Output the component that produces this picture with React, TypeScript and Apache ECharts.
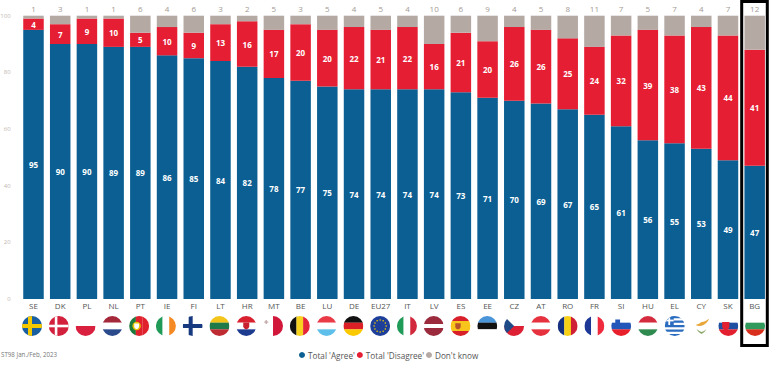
import React, { useEffect, useRef } from "react";
import * as echarts from "echarts";

const categories = ["SE","DK","PL","NL","PT","IE","FI","LT","HR","MT","BE","LU","DE","EU27","IT","LV","ES","EE","CZ","AT","RO","FR","SI","HU","EL","CY","SK","BG"];
const agree = [95,90,90,89,89,86,85,84,82,78,77,75,74,74,74,74,73,71,70,69,67,65,61,56,55,53,49,47];
const disagree = [4,7,9,10,5,10,9,13,16,17,20,20,22,21,22,16,21,20,26,26,25,24,32,39,38,43,44,41];
const dontKnow = [1,3,1,1,6,4,6,3,2,5,3,5,4,5,4,10,6,9,4,5,8,11,7,5,7,4,7,12];
const seriesNames = ["Total 'Agree'", "Total 'Disagree'", "Don't know"];
const yTicks = [0, 20, 40, 60, 80, 100];
const footnote = "ST98 Jan./Feb, 2023";

const BLUE = "#0b5f93", RED = "#e51e33", GREY = "#b5a9a3";

const hs = (cs: string[], w?: number[]) => {
  const tot = (w || cs.map(() => 1)).reduce((a, b) => a + b, 0);
  let y = 0;
  return cs.map((c, i) => {
    const h = (20 * (w ? w[i] : 1)) / tot;
    const r = `<rect x="0" y="${y}" width="20" height="${h + 0.1}" fill="${c}"/>`;
    y += h;
    return r;
  }).join("");
};
const vs = (cs: string[]) => cs.map((c, i) => `<rect x="${(i * 20) / cs.length}" y="0" width="${20 / cs.length + 0.1}" height="20" fill="${c}"/>`).join("");
const cross = (bg: string, c: string, t = 4) => `<rect width="20" height="20" fill="${bg}"/><rect x="6" width="${t}" height="20" fill="${c}"/><rect y="${10 - t / 2}" width="20" height="${t}" fill="${c}"/>`;
const shield = (x: number, y: number, c: string, s = 1) => `<path d="M${x - 3 * s} ${y - 3 * s}h${6 * s}v${4 * s}q0 ${2 * s} ${-3 * s} ${3 * s}q${-3 * s} ${-1 * s} ${-3 * s} ${-3 * s}z" fill="${c}"/>`;
const stars = Array.from({ length: 12 }, (_, i) => {
  const a = (i * Math.PI) / 6;
  return `<circle cx="${10 + 6 * Math.cos(a)}" cy="${10 + 6 * Math.sin(a)}" r="0.8" fill="#f5d000"/>`;
}).join("");

const flagBodies: Record<string, string> = {
  SE: cross("#1a5fa0", "#f5c900"),
  DK: cross("#d3203c", "#ffffff", 2.6),
  PL: hs(["#ffffff", "#d9203f"]),
  NL: hs(["#a5283a", "#ffffff", "#2a4a8c"]),
  PT: vs(["#1c7a3c", "#e0202c", "#e0202c"]) + `<circle cx="7.5" cy="10" r="4.2" fill="#e8c200"/>` + shield(7.5, 10, "#ffffff", 0.8),
  IE: vs(["#1f9a57", "#ffffff", "#f58a24"]),
  FI: cross("#ffffff", "#16397f"),
  LT: hs(["#f3c51b", "#1f7a4a", "#bf2b33"]),
  HR: hs(["#d8202f", "#ffffff", "#1d3c8f"]) + shield(10, 9.5, "#c8202f", 1),
  MT: vs(["#ffffff", "#d2183a"]) + `<rect x="2.5" y="4" width="1.3" height="4" fill="#c4a8a8"/><rect x="1.2" y="5.4" width="4" height="1.3" fill="#c4a8a8"/>`,
  BE: vs(["#111111", "#f7d21e", "#e3263a"]),
  LU: hs(["#ea3a46", "#ffffff", "#5ec0ea"]),
  DE: hs(["#111111", "#dc1f26", "#fbc900"]),
  EU27: `<rect width="20" height="20" fill="#1d3f9a"/>` + stars,
  IT: vs(["#1f9a57", "#ffffff", "#d2283c"]),
  LV: hs(["#9a2a3c", "#ffffff", "#9a2a3c"], [2, 1, 2]),
  ES: hs(["#d8202a", "#f8c51c", "#d8202a"], [1, 2, 1]) + shield(7.5, 10, "#b8522a", 0.9),
  EE: hs(["#4a94d8", "#111111", "#ffffff"]),
  CZ: `<rect width="20" height="10" fill="#ffffff"/><rect y="10" width="20" height="10" fill="#dd2033"/><path d="M0 0L10 10L0 20z" fill="#1f4a88"/>`,
  AT: hs(["#e6323f", "#ffffff", "#e6323f"]),
  RO: vs(["#14307f", "#f8d117", "#cf1f36"]),
  FR: vs(["#1c3796", "#ffffff", "#ee2a3c"]),
  SI: hs(["#ffffff", "#2256b8", "#e8202c"]) + shield(6.5, 6, "#2256b8", 0.8),
  HU: hs(["#d52b3e", "#ffffff", "#2f8a50"]),
  EL: `<rect width="20" height="20" fill="#ffffff"/>` + [0, 2, 4, 6, 8].map((k) => `<rect y="${k * 2.25}" width="20" height="2.25" fill="#2a6cc0"/>`).join("") + `<rect width="9" height="9" fill="#2a6cc0"/><rect x="3.6" width="1.8" height="9" fill="#fff"/><rect y="3.6" width="9" height="1.8" fill="#fff"/>`,
  CY: `<rect width="20" height="20" fill="#ffffff"/><path d="M4 9q4 -1 6 -3q4 0 8 -4q-2 5 -6 7q-4 2 -8 0z" fill="#e8a73a"/><path d="M5 13q4 3 5 3q2 0 5 -3q-2 4 -5 5q-3 -1 -5 -5z" fill="#8aa868"/>`,
  SK: hs(["#ffffff", "#1f4fa0", "#e3202f"]) + shield(7.5, 9.5, "#e3202f", 1.2),
  BG: hs(["#ffffff", "#2f9a5c", "#d8301c"]),
};

const flagUri = (code: string, i: number) =>
  "data:image/svg+xml;utf8," + encodeURIComponent(
    `<svg xmlns="http://www.w3.org/2000/svg" width="20" height="20" viewBox="0 0 20 20"><defs><clipPath id="c${i}"><circle cx="10" cy="10" r="10"/></clipPath></defs><g clip-path="url(#c${i})">${flagBodies[code]}</g></svg>`
  );

export default function App() {
  const ref = useRef<HTMLDivElement>(null);
  useEffect(() => {
    document.body.style.margin = "0";
    const chart = echarts.init(ref.current!, null, { renderer: "svg" });
    const font = "'Open Sans', sans-serif";
    const segLabel = {
      show: true, position: "inside" as const, color: "#ffffff", fontFamily: font, fontSize: 8, fontWeight: "bold" as const,
    };
    chart.setOption({
      animation: false,
      backgroundColor: "#ffffff",
      textStyle: { fontFamily: font },
      grid: { left: 20.14, width: 747.9, top: 15.7, height: 283.3, containLabel: false, outerBoundsMode: "none" },
      legend: {
        bottom: 9, left: 294, itemWidth: 6, itemHeight: 6, itemGap: 2, icon: "circle",
        data: seriesNames,
        textStyle: { color: "#555", fontSize: 8.2, fontFamily: font, padding: [0, 0, 0, -2] },
      },
      xAxis: {
        type: "category", data: categories,
        axisLine: { show: false }, axisTick: { show: false },
        axisLabel: { color: "#555", fontSize: 8, margin: 2, interval: 0, fontFamily: font },
      },
      yAxis: {
        type: "value", min: 0, max: 100, interval: 20,
        splitLine: { show: false }, axisLine: { show: false }, axisTick: { show: false },
        axisLabel: { color: "#bdb6b2", fontSize: 6, margin: 9.5, fontFamily: font,
          formatter: (v: number) => (yTicks.includes(v) ? String(v) : "") },
      },
      series: [
        { name: seriesNames[0], type: "bar", stack: "t", data: agree, barWidth: 20.5, itemStyle: { color: BLUE }, label: segLabel },
        { name: seriesNames[1], type: "bar", stack: "t", data: disagree, barWidth: 20.5, itemStyle: { color: RED }, label: segLabel },
        { name: seriesNames[2], type: "bar", stack: "t", data: dontKnow, barWidth: 20.5, itemStyle: { color: GREY },
          label: { show: true, position: "top", distance: 3, color: "#a39a94", fontSize: 8, fontFamily: font } },
        {
          type: "custom", silent: true, clip: false, legendHoverLink: false,
          data: categories.map((_, i) => i), encode: { x: 0 },
          renderItem: (params: any, api: any) => {
            const i = api.value(0);
            const p = api.coord([i, 0]);
            return {
              type: "image",
              style: { image: flagUri(categories[i], i), x: p[0] - 11.5 + i * 0.07, y: p[1] + 17, width: 20, height: 20 },
            };
          },
        },
      ],
      graphic: [
        { type: "text", left: 1, top: 351, style: { text: footnote, fill: "#777", fontSize: 6.2, fontFamily: font } },
        { type: "rect", shape: { x: 741.7, y: 1.5, width: 25.6, height: 344 }, style: { fill: "none", stroke: "#000000", lineWidth: 3 } },
      ],
    });
    return () => chart.dispose();
  }, []);
  return <div ref={ref} style={{ width: 780, height: 373 }} />;
}
